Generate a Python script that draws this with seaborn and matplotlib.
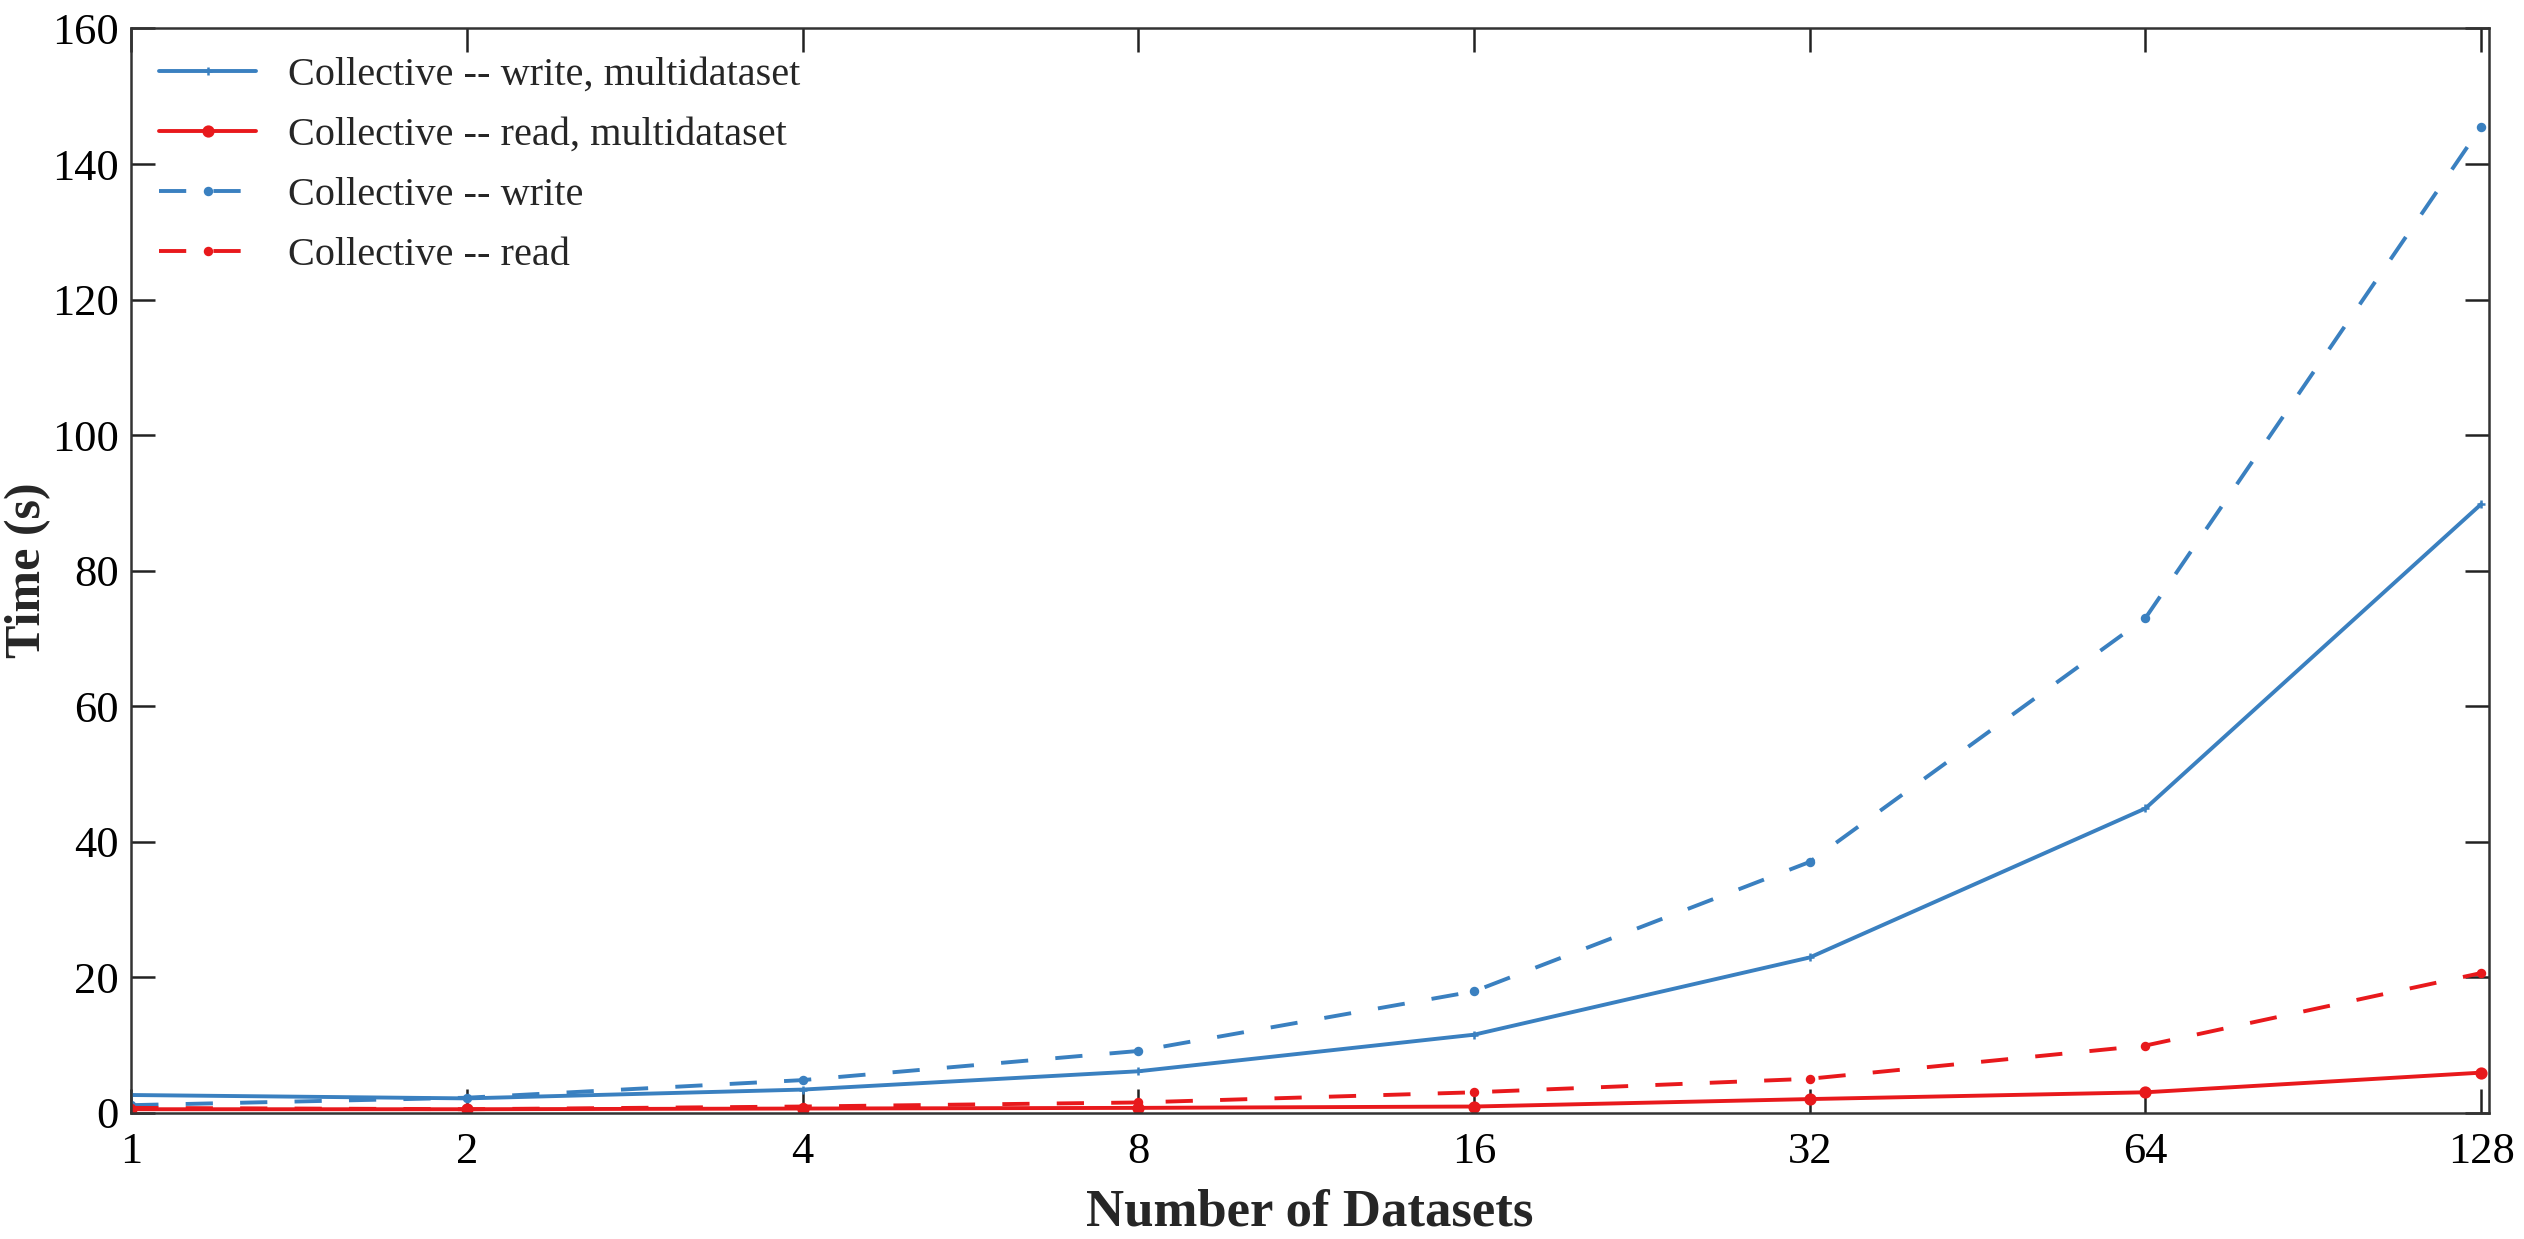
import matplotlib
matplotlib.use("Agg")
import matplotlib.pyplot as plt
from matplotlib.ticker import FixedLocator, FixedFormatter
import seaborn as sns
import pandas as pd

# number of datasets (x) and timings in seconds
datasets = [1, 2, 4, 8, 16, 32, 64, 128]
write_multi = [2.6, 2.1, 3.4, 6.1, 11.5, 22.9, 44.9, 89.8]
read_multi = [0.5, 0.5, 0.6, 0.7, 0.9, 2.0, 3.0, 5.9]
write_single = [1.1, 2.2, 4.8, 9.1, 17.9, 37.0, 73.0, 145.5]
read_single = [0.7, 0.5, 0.9, 1.5, 3.0, 5.0, 9.9, 20.6]

labels = ["Collective -- write, multidataset",
          "Collective -- read, multidataset",
          "Collective -- write",
          "Collective -- read"]
series = [write_multi, read_multi, write_single, read_single]

blue = "#3a80c0"
red = "#e8191c"
colors = [blue, red, blue, red]
dashed = [False, False, True, True]
markers = ["+", "o", "o", "o"]
msizes = [6, 7, 5, 5]

sns.set_style("ticks")
plt.rcParams["font.family"] = ["Liberation Serif", "DejaVu Serif"]

fig = plt.figure(figsize=(25.24, 12.39), dpi=100)
ax = fig.add_axes([0.052, 0.102, 0.934, 0.875])

for lab, vals, c, dsh, m, ms in zip(labels, series, colors, dashed, markers, msizes):
    df = pd.DataFrame({"x": datasets, "y": vals})
    sns.lineplot(data=df, x="x", y="y", ax=ax, color=c,
                 marker=m, markersize=ms, markeredgewidth=1.8,
                 markeredgecolor=c, markerfacecolor=c,
                 linewidth=2.8, label=lab)
    if dsh:
        ax.lines[-1].set_dashes((7, 7))

ax.set_xscale("log", base=2)
ax.set_xlim(1, 130)
ax.set_ylim(0, 160)
ax.xaxis.set_major_locator(FixedLocator(datasets))
ax.xaxis.set_major_formatter(FixedFormatter([str(d) for d in datasets]))
ax.xaxis.set_minor_locator(FixedLocator([]))
ax.set_yticks(range(0, 161, 20))

ax.tick_params(axis="both", which="major", direction="in", length=17,
               width=1.8, labelsize=32, top=True, right=True, pad=9,
               colors="#222222", labelcolor="black")
ax.tick_params(axis="x", pad=14)
for sp in ax.spines.values():
    sp.set_linewidth(1.8)
    sp.set_color("#333333")
    sp.set_visible(True)

ax.set_xlabel("Number of Datasets", fontsize=38, fontweight="bold", labelpad=12)
ax.set_ylabel("Time (s)", fontsize=36, fontweight="bold")
ax.yaxis.set_label_coords(-0.034, 0.5)

ax.legend(loc="upper left", frameon=False, fontsize=29, handlelength=2.4,
          handletextpad=0.8, labelspacing=0.57, borderaxespad=0.5,
          borderpad=0.2)

fig.savefig("out.png", dpi=100)
